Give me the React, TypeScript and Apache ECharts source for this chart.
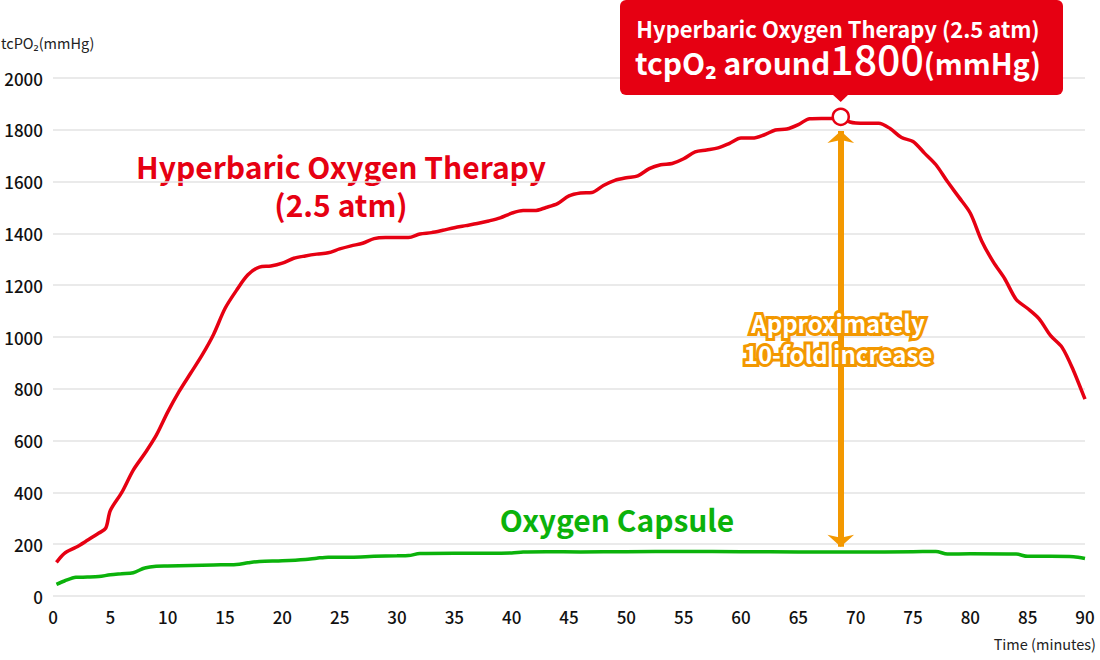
import React, { useEffect, useRef } from "react";
import * as echarts from "echarts";

const FONT = '"Noto Sans CJK JP", "Noto Sans", sans-serif';

const redTime = [0.3, 1, 2, 3, 4, 4.6, 5, 6, 7, 8, 9, 10, 11, 12, 13, 14, 15, 16, 17, 18, 19, 20, 21, 22, 23, 24, 25, 26, 27, 28, 29, 30, 31, 32, 33, 34, 35, 36, 37, 38, 39, 40, 41, 42, 43, 44, 45, 46, 47, 48, 49, 50, 51, 52, 53, 54, 55, 56, 57, 58, 59, 60, 61, 62, 63, 64, 65, 66, 67, 68, 68.7, 69.5, 70, 71, 72, 73, 74, 75, 76, 77, 78, 79, 80, 81, 82, 83, 84, 85, 86, 87, 88, 89, 90];
const redValue = [130, 165, 188, 215, 243, 262, 330, 400, 486, 550, 620, 710, 790, 860, 930, 1010, 1110, 1180, 1240, 1270, 1274, 1285, 1304, 1313, 1320, 1325, 1340, 1352, 1362, 1380, 1384, 1384, 1384, 1398, 1403, 1412, 1422, 1430, 1438, 1448, 1460, 1478, 1488, 1488, 1500, 1515, 1545, 1556, 1558, 1585, 1605, 1615, 1622, 1650, 1665, 1670, 1688, 1715, 1722, 1730, 1748, 1768, 1768, 1780, 1799, 1803, 1820, 1843, 1844, 1844, 1845, 1830, 1826, 1825, 1825, 1805, 1770, 1755, 1710, 1665, 1600, 1540, 1478, 1370, 1290, 1225, 1145, 1110, 1070, 1005, 960, 870, 760];

const greenTime = [0.3, 1, 2, 3, 4, 5, 6, 7, 8, 9, 10, 12, 14, 16, 17, 18, 20, 22, 23, 24, 26, 28, 30, 31, 32, 35, 38, 40, 41, 43, 46, 50, 55, 60, 65, 70, 75, 77, 78, 80, 84, 85, 87, 89, 90];
const greenValue = [45, 58, 72, 73, 75, 82, 86, 90, 108, 115, 116, 118, 120, 122, 128, 133, 136, 141, 146, 150, 150, 153, 155, 156, 164, 165, 165, 166, 170, 171, 170, 171, 172, 171, 170, 170, 171, 172, 162, 163, 162, 153, 153, 152, 145];

const peakPoint = [68.7, 1850];
const arrowX = 68.7;
const arrowTop = 1795;
const arrowBottom = 190;

const yMin = 0;
const yMax = 2000;
const yStep = 200;
const xMin = 0;
const xMax = 90;
const xStep = 5;

const RED = "#e60012";
const GREEN = "#0bb20b";
const ORANGE = "#f39800";

export default function App() {
  const ref = useRef<HTMLDivElement>(null);
  useEffect(() => {
    if (!ref.current) return;
    const chart = echarts.init(ref.current, null, { renderer: "svg" });
    const option: any = {
      animation: false,
      backgroundColor: "#ffffff",
      textStyle: { fontFamily: FONT },
      grid: { left: 53, right: 15, top: 78, bottom: 64, containLabel: false },
      xAxis: {
        type: "value",
        min: xMin,
        max: xMax,
        interval: xStep,
        axisLine: { show: false },
        axisTick: { show: false },
        splitLine: { show: false },
        axisLabel: { color: "#111", fontSize: 17, fontWeight: 500, margin: 12, fontFamily: FONT, formatter: (v: number) => String(v) },
      },
      yAxis: {
        type: "value",
        min: yMin,
        max: yMax,
        interval: yStep,
        axisLine: { show: false },
        axisTick: { show: false },
        splitLine: { show: true, lineStyle: { color: "#e3e3e3", width: 1.5 } },
        axisLabel: { color: "#111", fontSize: 17, fontWeight: 500, margin: 10, fontFamily: FONT, formatter: (v: number) => String(v) },
      },
      series: [
        {
          type: "line",
          data: greenTime.map((t, i) => [t, greenValue[i]]),
          smooth: 0.3,
          symbol: "none",
          lineStyle: { color: GREEN, width: 3.5 },
          z: 2,
        },
        {
          type: "line",
          data: redTime.map((t, i) => [t, redValue[i]]),
          smooth: 0.3,
          symbol: "none",
          lineStyle: { color: RED, width: 3.5 },
          z: 3,
          markLine: {
            silent: true,
            symbol: ["arrow", "arrow"],
            symbolSize: [20, 12],
            label: { show: false },
            lineStyle: { color: ORANGE, width: 6, type: "solid", opacity: 1 },
            data: [[{ coord: [arrowX, arrowTop] }, { coord: [arrowX, arrowBottom] }]],
            z: 4,
          },
        },
        {
          type: "scatter",
          data: [peakPoint],
          symbol: "circle",
          symbolSize: 16,
          itemStyle: { color: "#ffffff", borderColor: RED, borderWidth: 2.5, opacity: 1 },
          z: 6,
        },
      ],
      graphic: [
        {
          type: "text",
          left: 1,
          top: 35,
          style: { text: "tcPO₂(mmHg)", fontSize: 14.5, fill: "#222", fontFamily: FONT },
        },
        {
          type: "text",
          right: 4,
          top: 636,
          style: { text: "Time (minutes)", fontSize: 14.5, fill: "#222", fontFamily: FONT },
        },
        {
          type: "text",
          x: 341,
          y: 185,
          style: {
            text: "Hyperbaric Oxygen Therapy\n(2.5 atm)",
            fontSize: 30,
            lineHeight: 38,
            fontWeight: "bold",
            fill: RED,
            align: "center",
            verticalAlign: "middle",
            fontFamily: FONT,
          },
        },
        {
          type: "text",
          x: 617,
          y: 519,
          style: { text: "Oxygen Capsule", fontSize: 30, fontWeight: "bold", fill: GREEN, align: "center", verticalAlign: "middle", fontFamily: FONT },
        },
        {
          type: "text",
          x: 838,
          y: 337.5,
          z: 10,
          style: {
            text: "Approximately\n10-fold increase",
            fontSize: 24,
            lineHeight: 31,
            fontWeight: "bold",
            fill: "#fff",
            stroke: ORANGE,
            lineWidth: 6,
            align: "center",
            verticalAlign: "middle",
            fontFamily: FONT,
          },
        },
        {
          type: "rect",
          z: 10,
          shape: { x: 620, y: 0, width: 443, height: 95, r: 6 },
          style: { fill: RED },
        },
        {
          type: "polygon",
          z: 10,
          shape: { points: [[832, 94], [849, 94], [840.7, 102]] },
          style: { fill: RED },
        },
        {
          type: "text",
          z: 11,
          x: 838,
          y: 20,
          style: {
            text: "{l1|Hyperbaric Oxygen Therapy (2.5 atm)}\n{a|tcpO₂ around}{b|1800}{c|(mmHg)}",
            align: "center",
            verticalAlign: "top",
            fill: "#fff",
            fontFamily: FONT,
            rich: {
              l1: { fontSize: 22, lineHeight: 16, fontWeight: "bold", color: "#fff", verticalAlign: "middle", fontFamily: FONT },
              a: { fontSize: 30, lineHeight: 41, fontWeight: "bold", color: "#fff", verticalAlign: "bottom", fontFamily: FONT },
              b: { fontSize: 41, lineHeight: 41, fontWeight: 500, color: "#fff", verticalAlign: "bottom", fontFamily: FONT },
              c: { fontSize: 29, lineHeight: 41, fontWeight: "bold", color: "#fff", verticalAlign: "bottom", fontFamily: FONT },
            },
          },
        },
      ],
    };
    chart.setOption(option);
    return () => chart.dispose();
  }, []);
  return <div ref={ref} style={{ position: "absolute", left: 0, top: 0, width: 1100, height: 660 }} />;
}
